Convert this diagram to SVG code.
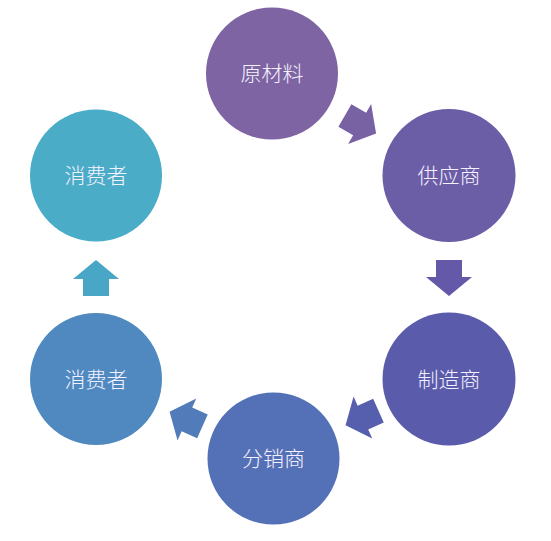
<svg xmlns="http://www.w3.org/2000/svg" width="551" height="541" viewBox="0 0 551 541">
<defs>
<style>
.lbl{font-family:"Noto Sans CJK SC","Noto Sans",sans-serif;font-size:21px;font-weight:300;fill:#F4F2FF;text-anchor:middle;}
</style>
<path id="arr" d="M-18,-13 L-1,-13 L-1,-23 L18,0 L-1,23 L-1,13 L-18,13 Z"/>
</defs>
<rect width="551" height="541" fill="#FFFFFF"/>
<g id="connectors">
<use href="#arr" transform="translate(360.5,124.5) rotate(30)" fill="#7962A4"/>
<use href="#arr" transform="translate(449,278) rotate(90)" fill="#6459A8"/>
<use href="#arr" transform="translate(362,418) rotate(156)" fill="#565FAE"/>
<use href="#arr" transform="translate(186,419) rotate(204)" fill="#527BBA"/>
<use href="#arr" transform="translate(96,278) rotate(-90)" fill="#4AA6C6"/>
</g>
<g id="n1"><circle cx="272" cy="73.5" r="66" fill="#7E64A2"/><text class="lbl" x="272" y="81">原材料</text></g>
<g id="n2"><circle cx="449" cy="175.5" r="66.5" fill="#6C5DA7"/><text class="lbl" x="449" y="183">供应商</text></g>
<g id="n3"><circle cx="449" cy="379" r="66.5" fill="#5A5BAA"/><text class="lbl" x="449" y="386.5">制造商</text></g>
<g id="n4"><circle cx="273.5" cy="458.5" r="66" fill="#5470B6"/><text class="lbl" x="273.5" y="466">分销商</text></g>
<g id="n5"><circle cx="96" cy="379" r="66" fill="#4F89BF"/><text class="lbl" x="96" y="386.5">消费者</text></g>
<g id="n6"><circle cx="96" cy="175.5" r="66" fill="#4BACC7"/><text class="lbl" x="96" y="183">消费者</text></g>
</svg>
